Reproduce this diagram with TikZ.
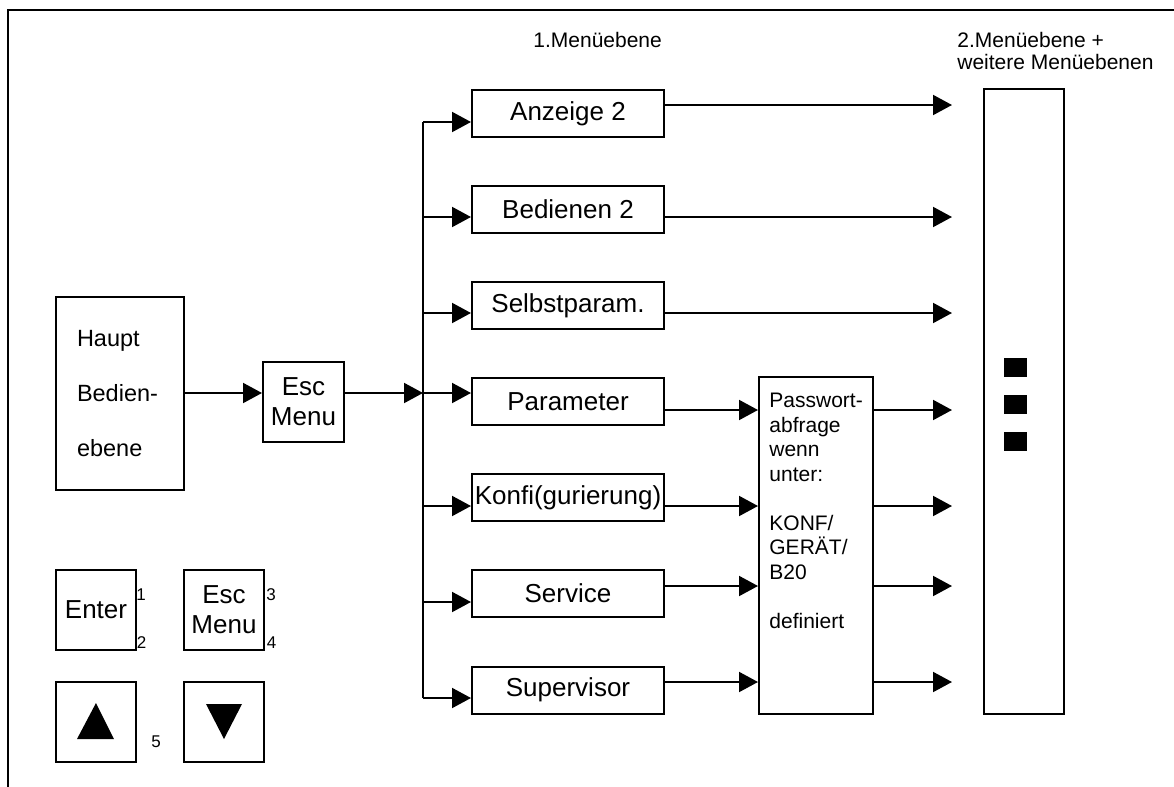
\documentclass[tikz,border=0pt]{standalone}
\usepackage{fontspec}
\setmainfont{Liberation Sans}
\usetikzlibrary{arrows.meta}
\begin{document}
\begin{tikzpicture}[x=0.5pt,y=-0.5pt,
  box/.style={draw, line width=1pt, inner sep=0pt, minimum width=96pt, minimum height=23.5pt, font=\fontsize{13}{15}\selectfont},
  key/.style={draw, line width=1pt, inner sep=0pt, minimum width=40pt, minimum height=40pt, align=center, font=\fontsize{13}{15}\selectfont},
  arr/.style={line width=1pt, -{Triangle[length=9.5pt,width=10pt]}},
  conn/.style={line width=1pt},
  small/.style={inner sep=0pt, anchor=base west, font=\fontsize{8.5}{10}\selectfont},
  lbl/.style={inner sep=0pt, font=\fontsize{10.5}{11}\selectfont}]
\useasboundingbox (0,0) rectangle (1174,787);
% frame
\draw[conn] (8,787) -- (8,10) -- (1174,10);
% labels
\node[lbl, anchor=base west] (lab1) at (533,47) {1.Menüebene};
\node[lbl, anchor=north west, align=left] (lab2) at (957,32) {2.Menüebene +\\weitere Menüebenen};
% main nodes
\node[draw, line width=1pt, minimum width=64pt, minimum height=96.5pt, text width=43pt, inner xsep=10.5pt, inner ysep=0pt, align=left, font=\fontsize{11.75}{27.5}\selectfont] (haupt) at (120,393.5) {Haupt\\Bedien-\\ebene};
\node[key, minimum width=40.5pt] (esc1) at (303.5,402) {Esc\\Menu};
\coordinate (bus) at (423,393);
\node[box] (anz) at (568,113.5) {Anzeige 2};
\node[box] (bed) at (568,209.5) {Bedienen 2};
\node[box] (sel) at (568,305.5) {Selbstparam.};
\node[box] (par) at (568,401.5) {Parameter};
\node[box] (konf) at (568,497.5) {Konfi(gurierung)};
\node[box] (serv) at (568,593.5) {Service};
\node[box] (sup) at (568,690) {Supervisor};
\node[draw, line width=1pt, minimum width=57pt, minimum height=168.5pt, inner sep=0pt] (pw) at (816,545.5) {};
\node[lbl, anchor=north west, align=left, font=\fontsize{10.5}{12.25}\selectfont] (pwtext) at (769,393) {Passwort-\\abfrage\\wenn\\unter:\\[12.25pt]KONF/\\GERÄT/\\B20\\[12.25pt]definiert};
\node[draw, line width=1pt, minimum width=40pt, minimum height=312.5pt, inner sep=0pt] (nxt) at (1024,401.5) {};
\coordinate (tgt) at (952,401.5);
% dots in next box
\fill (1004,358) rectangle (1027,377);
\fill (1004,395) rectangle (1027,414);
\fill (1004,432) rectangle (1027,451);
% connectors left
\draw[arr] (haupt.east |- bus) -- (esc1.west |- bus);
\draw[arr] (esc1.east |- bus) -- (bus);
\draw[conn] ([yshift=-4.25pt]anz.west -| bus) -- ([yshift=-4pt]sup.west -| bus);
\draw[arr] ([yshift=-4.25pt]anz.west -| bus) -- ([yshift=-4.25pt]anz.west);
\draw[arr] ([yshift=-3.75pt]bed.west -| bus) -- ([yshift=-3.75pt]bed.west);
\draw[arr] ([yshift=-3.75pt]sel.west -| bus) -- ([yshift=-3.75pt]sel.west);
\draw[arr] ([yshift=4.25pt]par.west -| bus) -- ([yshift=4.25pt]par.west);
\draw[arr] ([yshift=-4.25pt]konf.west -| bus) -- ([yshift=-4.25pt]konf.west);
\draw[arr] ([yshift=-4.25pt]serv.west -| bus) -- ([yshift=-4.25pt]serv.west);
\draw[arr] ([yshift=-4pt]sup.west -| bus) -- ([yshift=-4pt]sup.west);
% connectors right (direct)
\draw[arr] ([yshift=4.25pt]anz.east) -- ([yshift=4.25pt]anz.east -| tgt);
\draw[arr] ([yshift=-3.75pt]bed.east) -- ([yshift=-3.75pt]bed.east -| tgt);
\draw[arr] ([yshift=-3.75pt]sel.east) -- ([yshift=-3.75pt]sel.east -| tgt);
% via password box
\draw[arr] ([yshift=-4.25pt]par.east) -- ([yshift=-4.25pt]par.east -| pw.west);
\draw[arr] ([yshift=-4.25pt]konf.east) -- ([yshift=-4.25pt]konf.east -| pw.west);
\draw[arr] ([yshift=3.75pt]serv.east) -- ([yshift=3.75pt]serv.east -| pw.west);
\draw[arr] ([yshift=4pt]sup.east) -- ([yshift=4pt]sup.east -| pw.west);
\draw[arr] ([yshift=-4.25pt]par.east -| pw.east) -- ([yshift=-4.25pt]par.east -| tgt);
\draw[arr] ([yshift=-4.25pt]konf.east -| pw.east) -- ([yshift=-4.25pt]konf.east -| tgt);
\draw[arr] ([yshift=3.75pt]serv.east -| pw.east) -- ([yshift=3.75pt]serv.east -| tgt);
\draw[arr] ([yshift=4pt]sup.east -| pw.east) -- ([yshift=4pt]sup.east -| tgt);
% keys
\node[key] (enter) at (96,610) {Enter};
\node[key] (esc2) at (224,610) {Esc\\Menu};
\node[key] (up) at (96,722) {};
\node[key] (down) at (224,722) {};
\fill (96,703) -- (77,739) -- (114,739) -- cycle;
\fill (206,704) -- (242,704) -- (224,739) -- cycle;
\node[small] (n1) at (136,600) {1};
\node[small] (n2) at (136.5,648) {2};
\node[small] (n3) at (266,600) {3};
\node[small] (n4) at (266.5,648) {4};
\node[small] (n5) at (151,747) {5};
\end{tikzpicture}
\end{document}
